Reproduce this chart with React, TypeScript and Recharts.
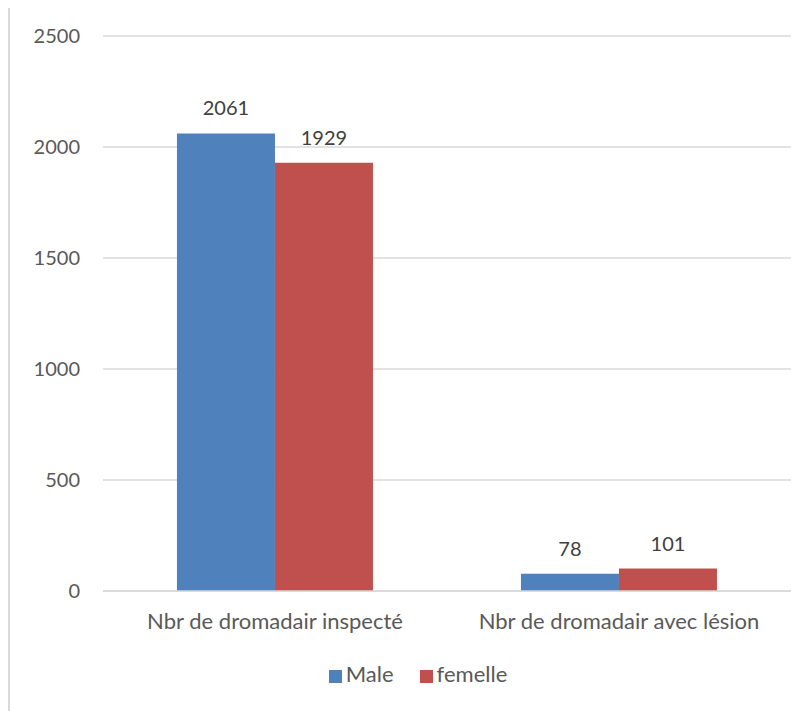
import React from "react";
import {
  BarChart,
  Bar,
  XAxis,
  YAxis,
  CartesianGrid,
  Legend,
  LabelList,
} from "recharts";

const categories = [
  "Nbr de dromadair inspecté",
  "Nbr de dromadair avec lésion",
];
const maleValues = [2061, 78];
const femelleValues = [1929, 101];
const yTicks = [0, 500, 1000, 1500, 2000, 2500];

const data = categories.map((name, i) => ({
  name,
  Male: maleValues[i],
  femelle: femelleValues[i],
}));

const FONT = "Lato, 'Open Sans', sans-serif";

export default function App() {
  return (
    <div
      style={{
        position: "relative",
        marginTop: -2,
        width: 820,
        height: 720,
        borderTop: "2px solid #d9d9d9",
        borderLeft: "2px solid #d9d9d9",
        fontFamily: FONT,
      }}
    >
      <BarChart
        width={798}
        height={703}
        data={data}
        margin={{ top: 28, right: 17, left: 0, bottom: 53 }}
        barGap={0}
        barCategoryGap="21.5%"
      >
        <CartesianGrid vertical={false} stroke="#d9d9d9" strokeWidth={1.5} />
        <XAxis
          dataKey="name"
          axisLine={{ stroke: "#d9d9d9", strokeWidth: 1.5 }}
          tickLine={false}
          tickSize={0}
          tickMargin={22}
          height={40}
          tick={{ fill: "#595959", fontSize: 22, fontFamily: FONT }}
        />
        <YAxis
          domain={[0, 2500]}
          ticks={yTicks}
          axisLine={false}
          tickLine={false}
          tickSize={0}
          tickMargin={23}
          width={93}
          tick={{ fill: "#595959", fontSize: 20, fontFamily: FONT }}
        />
        <Legend
          verticalAlign="bottom"
          iconType="square"
          iconSize={13}
          wrapperStyle={{
            top: 652,
            left: 0,
            width: 826,
            fontSize: 22,
            fontFamily: FONT,
            color: "#595959",
          }}
          formatter={(value) => (
            <span style={{ color: "#595959", marginRight: value === "Male" ? 16 : 0 }}>
              {value}
            </span>
          )}
        />
        <Bar dataKey="Male" fill="#4F81BD" isAnimationActive={false}>
          <LabelList
            dataKey="Male"
            position="top"
            offset={18}
            fill="#404040"
            fontSize={20}
            fontFamily={FONT}
          />
        </Bar>
        <Bar dataKey="femelle" fill="#C0504D" isAnimationActive={false}>
          <LabelList
            dataKey="femelle"
            position="top"
            offset={18}
            fill="#404040"
            fontSize={20}
            fontFamily={FONT}
          />
        </Bar>
      </BarChart>
    </div>
  );
}
